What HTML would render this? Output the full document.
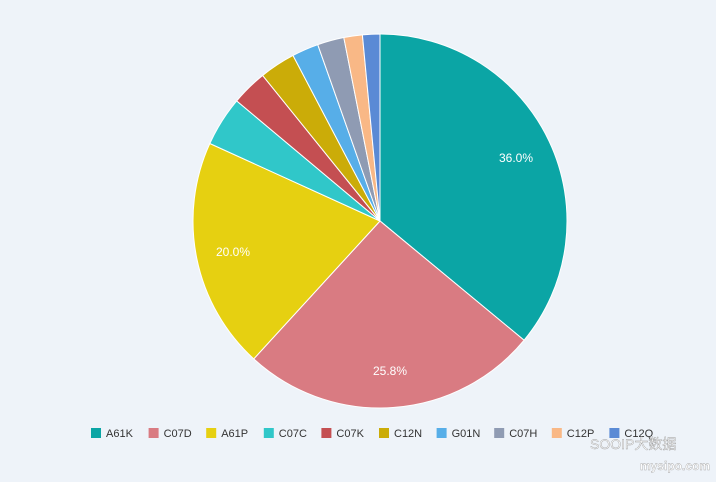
<!DOCTYPE html>
<html><head><meta charset="utf-8">
<style>
html,body{margin:0;padding:0;background:#eef3f9;}
body{width:716px;height:477px;overflow:hidden;font-family:"Liberation Sans","Noto Sans CJK SC",sans-serif;}
</style></head>
<body>
<svg id="s" width="716" height="477" xmlns="http://www.w3.org/2000/svg">
<rect width="716" height="477" fill="#eef3f9"/>
<g id="pie"></g>
<g font-size="12" fill="#fff" text-anchor="middle">
<text x="516" y="162">36.0%</text>
<text x="233" y="256">20.0%</text>
<text x="390" y="375">25.8%</text>
</g>
<g id="leg" font-size="11" fill="#333"></g>
<text x="590" y="449" font-size="14" fill="#fff" stroke="#999" stroke-width="0.4">SOOIP大数据</text>
<text x="640" y="470" font-size="12" font-weight="bold" fill="#fff" stroke="#aaa" stroke-width="0.4">mysipo.com</text>
</svg>
<script>
var d=[["A61K",36,"#0ba5a5"],["C07D",25.8,"#d97b82"],["A61P",20,"#e6d011"],["C07C",4.3,"#30c7c9"],["C07K",3.1,"#c44f52"],["C12N",3.1,"#cbac08"],["G01N",2.3,"#57aee8"],["C07H",2.3,"#8f9bb3"],["C12P",1.6,"#f9b886"],["C12Q",1.5,"#5a8ad5"]];
var cx=380,cy=221,r=187,a=0,h="",ns="http://www.w3.org/2000/svg";
var tot=d.reduce(function(s,x){return s+x[1]},0);
d.forEach(function(x){var b=a+x[1]/tot*Math.PI*2;
var x1=cx+r*Math.sin(a),y1=cy-r*Math.cos(a),x2=cx+r*Math.sin(b),y2=cy-r*Math.cos(b);
h+='<path d="M'+cx+','+cy+'L'+x1+','+y1+'A'+r+','+r+' 0 '+((b-a)>Math.PI?1:0)+' 1 '+x2+','+y2+'Z" fill="'+x[2]+'" stroke="#fff" stroke-width="1"/>';a=b;});
document.getElementById("pie").innerHTML=h;
var l="";d.forEach(function(x,i){var lx=91+i*57.6;l+='<rect x="'+lx+'" y="428" width="10" height="10" fill="'+x[2]+'"/><text x="'+(lx+15)+'" y="437">'+x[0]+'</text>';});
document.getElementById("leg").innerHTML=l;
</script>
</body></html>
